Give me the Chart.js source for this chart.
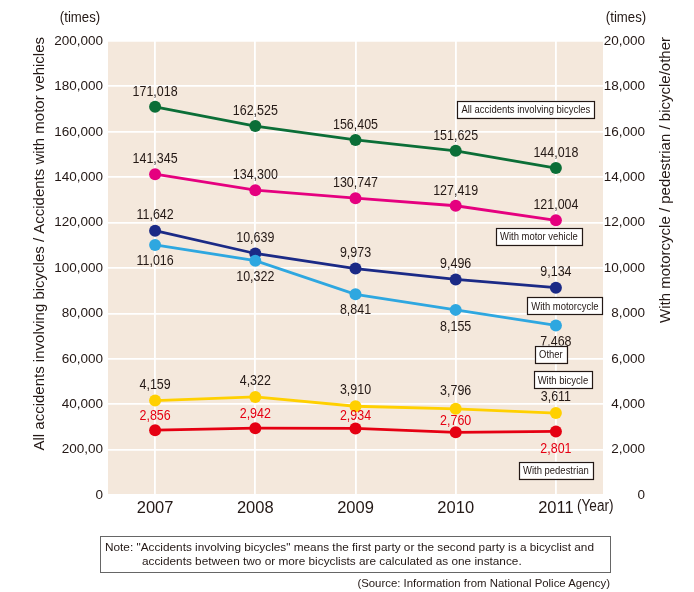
<!DOCTYPE html>
<html>
<head>
<meta charset="utf-8">
<script src="https://cdn.jsdelivr.net/npm/chart.js@4.4.1/dist/chart.umd.min.js"></script>
<style>
  body { margin: 0; background: #fff; }
  #wrap { position: relative; width: 694px; height: 592px; }
  #note {
    position: absolute; left: 100px; top: 536px; width: 509px; height: 32px;
    border: 1.5px solid #666; box-sizing: content-box;
    font: 11.8px "Liberation Sans", Arial, sans-serif; color: #231815; line-height: 14px;
    padding-top: 3px;
  }
  #note div { white-space: nowrap; }
  #source {
    position: absolute; right: 84px; top: 577px;
    font: 11.4px "Liberation Sans", Arial, sans-serif; color: #231815;
  }
</style>
</head>
<body>
<div id="wrap">
  <canvas id="chart" width="694" height="592"></canvas>
  <div id="note">
    <div style="padding-left:4px">Note: "Accidents involving bicycles" means the first party or the second party is a bicyclist and</div>
    <div style="padding-left:41px">accidents between two or more bicyclists are calculated as one instance.</div>
  </div>
  <div id="source">(Source: Information from National Police Agency)</div>
</div>
<script>
const FONT = '"Liberation Sans", Arial, sans-serif';
const TEXT = '#231815';

// data
const years = [2007, 2008, 2009, 2010, 2011];
const allBicycles = [171018, 162525, 156405, 151625, 144018];
const withMotorVehicle = [141345, 134300, 130747, 127419, 121004];
const other = [11016, 10322, 8841, 8155, 7468];
const withMotorcycle = [11642, 10639, 9973, 9496, 9134];
const withBicycle = [4159, 4322, 3910, 3796, 3611];
const withPedestrian = [2856, 2942, 2934, 2760, 2801];

const leftTicks = [0, 20000, 40000, 60000, 80000, 100000, 120000, 140000, 160000, 180000, 200000];
const rightTicks = [0, 2000, 4000, 6000, 8000, 10000, 12000, 14000, 16000, 18000, 20000];

// boxed series names, anchored in (year, left-axis value)
const boxNames = ['All accidents involving bicycles', 'With motor vehicle', 'With motorcycle', 'Other', 'With bicycle', 'With pedestrian'];
const boxX = [2010.70, 2010.83, 2011.09, 2010.95, 2011.07, 2011.0];
const boxY = [170000, 114000, 83300, 62100, 50700, 11000];

const toPts = (arr) => arr.map((v, i) => ({ x: years[i], y: v }));

function series(label, values, color, axis, offsets, labelColor) {
  return {
    label: label,
    data: toPts(values),
    yAxisID: axis,
    borderColor: color,
    backgroundColor: color,
    pointBackgroundColor: color,
    pointBorderWidth: 0,
    pointRadius: 6,
    borderWidth: 2.8,
    tension: 0,
    labelOffsets: offsets,
    labelColor: labelColor || TEXT,
  };
}

// the original uses a narrow face, squeeze the regular one
function narrowText(ctx, text, x, y, sx) {
  ctx.save();
  ctx.translate(x, y);
  ctx.scale(sx, 1);
  ctx.fillText(text, 0, 0);
  ctx.restore();
}

const bgPlugin = {
  id: 'bg',
  beforeDraw(chart) {
    const a = chart.chartArea;
    const ctx = chart.ctx;
    ctx.save();
    ctx.fillStyle = '#f4e8dc';
    ctx.fillRect(a.left, a.top, a.right - a.left, a.bottom - a.top);
    ctx.restore();
  },
};

const textPlugin = {
  id: 'texts',
  afterDatasetsDraw(chart) {
    const ctx = chart.ctx;
    const xs = chart.scales.x;
    const ys = chart.scales.y;
    ctx.save();
    // value labels
    ctx.font = '15px ' + FONT;
    ctx.textAlign = 'center';
    ctx.textBaseline = 'middle';
    chart.data.datasets.forEach((ds, i) => {
      const meta = chart.getDatasetMeta(i);
      meta.data.forEach((pt, j) => {
        ctx.fillStyle = ds.labelColor;
        narrowText(ctx, ds.data[j].y.toLocaleString('en-US'), pt.x, pt.y + ds.labelOffsets[j], 0.83);
      });
    });
    // boxes
    ctx.font = '11px ' + FONT;
    boxNames.forEach((name, i) => {
      const cx = xs.getPixelForValue(boxX[i]);
      const cy = ys.getPixelForValue(boxY[i]);
      const w = ctx.measureText(name).width * 0.86 + 8;
      const h = 17;
      ctx.fillStyle = '#fff';
      ctx.fillRect(cx - w / 2, cy - h / 2, w, h);
      ctx.strokeStyle = '#231815';
      ctx.lineWidth = 1.2;
      ctx.strokeRect(Math.round(cx - w / 2) + 0.5, Math.round(cy - h / 2) + 0.5, Math.round(w), h);
      ctx.fillStyle = TEXT;
      narrowText(ctx, name, cx, cy + 1, 0.86);
    });
    ctx.restore();
  },
  afterDraw(chart) {
    const ctx = chart.ctx;
    ctx.save();
    ctx.fillStyle = TEXT;
    ctx.textBaseline = 'middle';
    ctx.font = '15px ' + FONT;
    ctx.textAlign = 'center';
    narrowText(ctx, '(times)', 80, 18, 0.88);
    narrowText(ctx, '(times)', 626, 18, 0.88);
    ctx.font = '16px ' + FONT;
    ctx.textAlign = 'left';
    narrowText(ctx, '(Year)', 577, 507, 0.85);
    // axis titles, both reading bottom to top
    ctx.font = '15px ' + FONT;
    ctx.textAlign = 'right';
    ctx.save();
    ctx.translate(40, 37);
    ctx.rotate(-Math.PI / 2);
    ctx.fillText('All accidents involving bicycles / Accidents with motor vehicles', 0, 0);
    ctx.restore();
    ctx.save();
    ctx.translate(666, 37);
    ctx.rotate(-Math.PI / 2);
    ctx.fillText('With motorcycle / pedestrian / bicycle/other', 0, 0);
    ctx.restore();
    ctx.restore();
  },
};

const ctx = document.getElementById('chart');
new Chart(ctx, {
  type: 'line',
  data: {
    datasets: [
      series('All accidents involving bicycles', allBicycles, '#0b6e37', 'y', [-15, -15, -15, -15, -15]),
      series('With motor vehicle', withMotorVehicle, '#e5007f', 'y', [-15, -15, -15, -15, -15]),
      series('Other', other, '#2ea7e0', 'y2', [16, 16, 16, 17, 16]),
      series('With motorcycle', withMotorcycle, '#1b2a86', 'y2', [-16, -16, -16, -16, -16]),
      series('With bicycle', withBicycle, '#ffd000', 'y2', [-16, -16, -16, -18, -16]),
      series('With pedestrian', withPedestrian, '#e50012', 'y2', [-14, -14, -13, -11, 17], '#e50012'),
    ],
  },
  options: {
    responsive: false,
    animation: false,
    layout: { padding: { top: 41, right: 49, left: 0, bottom: 0 } },
    plugins: { legend: { display: false }, tooltip: { enabled: false } },
    scales: {
      x: {
        type: 'linear',
        min: 2006.53,
        max: 2011.47,
        afterBuildTicks: (s) => { s.ticks = years.map((v) => ({ value: v })); },
        afterFit: (s) => { s.height = 97; },
        border: { display: false },
        grid: { color: '#ffffff', lineWidth: 1.8, drawTicks: false },
        ticks: {
          padding: 4,
          color: TEXT,
          font: { family: FONT, size: 16.5 },
          callback: (v) => String(v),
        },
      },
      y: {
        position: 'left',
        min: 0,
        max: 200000,
        afterBuildTicks: (s) => { s.ticks = leftTicks.map((v) => ({ value: v })); },
        afterFit: (s) => { s.width = 108; },
        border: { display: false },
        grid: { color: '#ffffff', lineWidth: 1.8, drawTicks: false },
        ticks: {
          padding: 5,
          color: TEXT,
          font: { family: FONT, size: 13.5 },
          callback: (v) => (v === 20000 ? '200,00' : v.toLocaleString('en-US')),
        },
      },
      y2: {
        position: 'right',
        min: 0,
        max: 20000,
        afterBuildTicks: (s) => { s.ticks = rightTicks.map((v) => ({ value: v })); },
        afterFit: (s) => { s.width = 42; },
        border: { display: false },
        grid: { display: false, drawTicks: false },
        ticks: {
          padding: 1,
          crossAlign: 'far',
          color: TEXT,
          font: { family: FONT, size: 13.5 },
          callback: (v) => v.toLocaleString('en-US'),
        },
      },
    },
  },
  plugins: [bgPlugin, textPlugin],
});
</script>
</body>
</html>
